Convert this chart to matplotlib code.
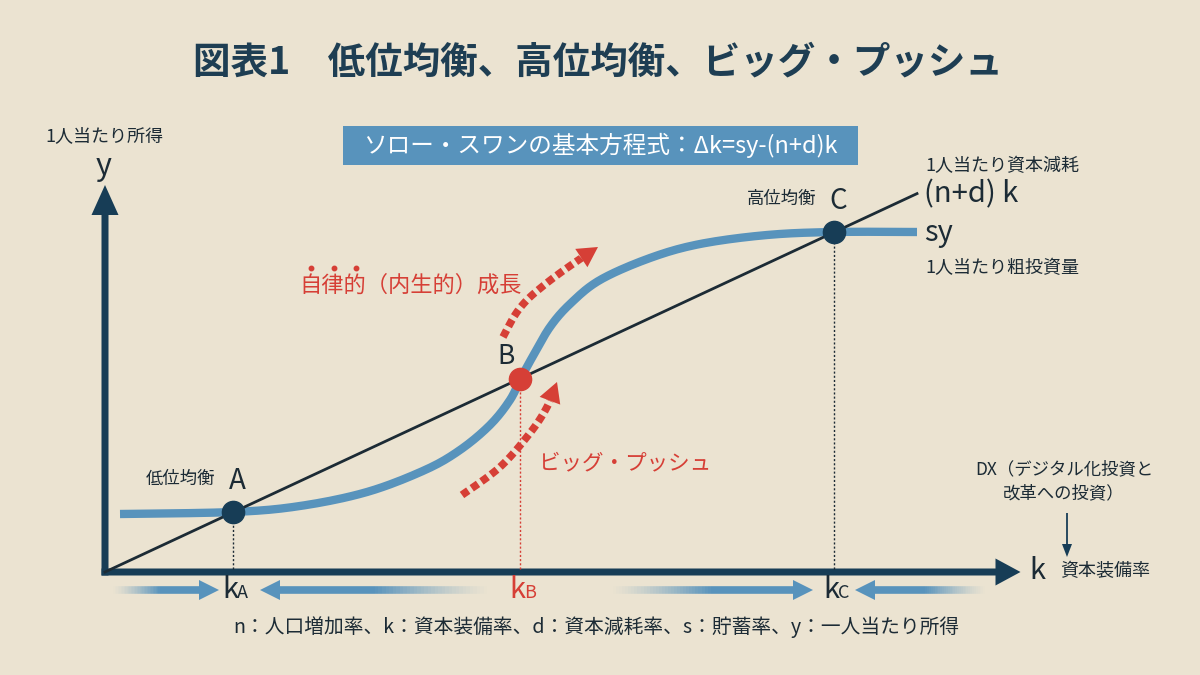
import numpy as np
import matplotlib.pyplot as plt
import matplotlib.patches as patches
from matplotlib.collections import LineCollection

plt.rcParams['font.family'] = ['Noto Sans CJK JP', 'DejaVu Sans']

# --- data (k = capital per worker, y = output per worker, arbitrary units) ---
sy_k = [0.15, 1.28, 1.95, 2.62, 3.20, 3.55, 3.85, 4.05, 4.16, 4.28, 4.45, 4.65, 4.95, 5.45, 5.95, 6.62, 7.29, 8.12]
sy_y = [0.58, 0.60, 0.66, 0.80, 1.02, 1.22, 1.47, 1.72, 1.94, 2.16, 2.45, 2.68, 2.92, 3.14, 3.28, 3.37, 3.40, 3.40]
dep_slope = 0.466          # (n+d)
dep_kmax = 8.12
eq_names = ['A', 'B', 'C']
eq_k = [1.28, 4.15, 7.29]
eq_desc = ['低位均衡', '', '高位均衡']

# red "growth" arrows (k, y)
up_k = [3.98, 4.10, 4.22, 4.38, 4.55, 4.75, 4.93]
up_y = [2.35, 2.57, 2.72, 2.86, 2.99, 3.13, 3.25]
push_k = [3.57, 3.95, 4.25, 4.42, 4.52]
push_y = [0.77, 1.05, 1.39, 1.65, 1.90]

# convergence arrows under the k axis: (tail, tip)
conv_tail = [0.07, 3.86, 5.05, 8.82]
conv_tip = [1.14, 1.55, 7.08, 7.50]

title = '図表1　低位均衡、高位均衡、ビッグ・プッシュ'
eq_box = 'ソロー・スワンの基本方程式：Δk=sy-(n+d)k'
footnote = 'n：人口増加率、k：資本装備率、d：資本減耗率、s：貯蓄率、y：一人当たり所得'

bg = '#ebe3d1'
navy = '#173d56'
blue = '#5893bc'
red = '#d63f36'
dark = '#1c2b35'


def smooth(xs, ys, n=16):
    p = np.column_stack([xs, ys])
    p = np.vstack([p[0], p, p[-1]])
    out = []
    t = np.linspace(0, 1, n, endpoint=False)[:, None]
    for i in range(1, len(p) - 2):
        p0, p1, p2, p3 = p[i - 1], p[i], p[i + 1], p[i + 2]
        out.append(0.5 * (2 * p1 + (-p0 + p2) * t + (2 * p0 - 5 * p1 + 4 * p2 - p3) * t ** 2
                          + (-p0 + 3 * p1 - 3 * p2 + p3) * t ** 3))
    out.append(p[-2][None])
    return np.vstack(out).T


def px(x, y):
    # figure pixel -> data units (origin of axes at pixel 105,572, 100 px per unit)
    return (x - 105) / 100, (572 - y) / 100


fig = plt.figure(figsize=(12, 6.75), dpi=100, facecolor=bg)
ax = fig.add_axes([0, 0, 1, 1])
ax.set_facecolor(bg)
ax.set_xlim(-1.05, 10.95)
ax.set_ylim(-1.03, 5.72)
ax.axis('off')

# title and equation box
ax.text(*px(598, 62), title, ha='center', va='center', fontsize=27, fontweight='bold', color='#1e3e53')
x0, y0 = px(343, 165)
x1, y1 = px(858, 126)
ax.add_patch(patches.Rectangle((x0, y0), x1 - x0, y1 - y0, fc=blue, ec='none'))
ax.text((x0 + x1) / 2, (y0 + y1) / 2, eq_box, ha='center', va='center', fontsize=17, color='white')

# axes arrows
ax.add_patch(patches.FancyArrow(-0.035, 0, 9.19, 0, width=0.07, head_width=0.27, head_length=0.25,
                                length_includes_head=True, fc=navy, lw=0))
ax.add_patch(patches.FancyArrow(0, -0.035, 0, 3.905, width=0.07, head_width=0.27, head_length=0.30,
                                length_includes_head=True, fc=navy, lw=0))

# sy curve and depreciation line
sk, syv = smooth(sy_k, sy_y)
ax.plot(sk, syv, color=blue, lw=6, solid_capstyle='butt', zorder=3)
ax.plot([0, dep_kmax], [0, dep_slope * dep_kmax], color=dark, lw=2, zorder=4)

# dotted guides and equilibrium points
for name, k, desc in zip(eq_names, eq_k, eq_desc):
    y = dep_slope * k
    c = red if name == 'B' else dark
    ax.plot([k, k], [0.035, y], color=c, lw=1, ls=(0, (1.5, 1.5)), zorder=2)
    ax.plot(k, y, 'o', ms=16, color=red if name == 'B' else navy, zorder=5)
    if name == 'B':
        ax.text(k - 0.14, y + 0.22, name, ha='center', va='center', fontsize=19, color=dark)
    else:
        ax.text(k + 0.04, y + 0.31, name, ha='center', va='center', fontsize=20, color=dark)
        ax.text(k - 0.18, y + 0.33, desc, ha='right', va='center', fontsize=12.5, color=dark)
    ax.text(k - 0.11, -0.185, 'k', ha='left', va='center', fontsize=21, color=c)
    ax.text(k + 0.04, -0.205, name, ha='left', va='center', fontsize=13, color=c)


def red_arrow(ks, ys):
    x, y = smooth(ks, ys)
    d = np.array([x[-1] - x[-3], y[-1] - y[-3]])
    d = d / np.hypot(*d)
    nrm = np.array([-d[1], d[0]])
    tip = np.array([x[-1], y[-1]])
    base = tip - 0.2 * d
    keep = (x - base[0]) * d[0] + (y - base[1]) * d[1] < 0
    ax.plot(np.append(x[keep], base[0]), np.append(y[keep], base[1]), color=red, lw=5.5,
            ls=(0, (1.0, 0.55)), zorder=6)
    head = [tip, base + 0.11 * nrm, base - 0.11 * nrm]
    ax.add_patch(patches.Polygon(head, closed=True, fc=red, ec='none', zorder=6))


red_arrow(up_k, up_y)
red_arrow(push_k, push_y)

ax.text(*px(299, 285), '自律的（内生的）成長', ha='left', va='center', fontsize=16, color=red)
for xd in (311, 334, 356):
    ax.plot(*px(xd, 268), 'o', ms=3.2, color=red)
ax.text(*px(539, 463), 'ビッグ・プッシュ', ha='left', va='center', fontsize=15.5, color=red)

# right-side labels
ax.text(*px(925, 166), '1人当たり資本減耗', ha='left', va='center', fontsize=13, color=dark)
ax.text(*px(924, 194), '(n+d) k', ha='left', va='center', fontsize=21, color=dark)
ax.text(*px(924, 233), 'sy', ha='left', va='center', fontsize=21, color=dark)
ax.text(*px(925, 268), '1人当たり粗投資量', ha='left', va='center', fontsize=13, color=dark)

ax.text(*px(45, 136), '1人当たり所得', ha='left', va='center', fontsize=13, color=dark)
ax.text(*px(104, 166), 'y', ha='center', va='center', fontsize=22, color=dark)
ax.text(*px(1029, 571), 'k', ha='left', va='center', fontsize=21, color=dark)
ax.text(*px(1060, 571), '資本装備率', ha='left', va='center', fontsize=13, color=dark)

ax.text(*px(1064, 469), 'DX（デジタル化投資と', ha='center', va='center', fontsize=12.5, color=dark)
ax.text(*px(1064, 493), '改革への投資）', ha='center', va='center', fontsize=12.5, color=dark)
ax.add_patch(patches.FancyArrow(*px(1067, 513), 0, -0.44, width=0.018, head_width=0.1, head_length=0.13,
                                length_includes_head=True, fc=navy, lw=0))

# convergence arrows with fading tails
rgb = np.array([88, 147, 188]) / 255
ya = -0.18
for tail, tip in zip(conv_tail, conv_tip):
    sgn = np.sign(tip - tail)
    base = tip - sgn * 0.2
    xs = np.linspace(tail, base, 61)
    segs = [[(xs[i], ya), (xs[i + 1], ya)] for i in range(60)]
    a = np.clip(np.linspace(0, 1, 60) * 1.8, 0, 1) ** 1.3
    cols = [(*rgb, ai) for ai in a]
    ax.add_collection(LineCollection(segs, colors=cols, linewidths=5.5, capstyle='butt'))
    ax.add_patch(patches.Polygon([(tip, ya), (base, ya + 0.1), (base, ya - 0.1)], closed=True,
                                 fc=rgb, ec='none'))

ax.text(*px(596, 627), footnote, ha='center', va='center', fontsize=14.2, color=dark)

fig.savefig('out.png', dpi=100, facecolor=bg)
